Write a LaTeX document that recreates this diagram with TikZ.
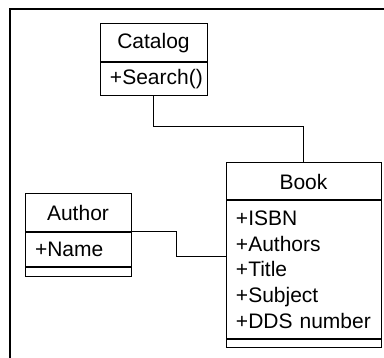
\documentclass[tikz,border=0pt]{standalone}
\usepackage{fontspec}
\setmainfont{Liberation Sans}
\usetikzlibrary{positioning}
\begin{document}
\begin{tikzpicture}[x=1pt,y=-1pt,
  part/.style={draw,line width=1pt,outer sep=0pt,inner sep=0pt},
  titlepart/.style={part,minimum height=38pt,font=\fontsize{21}{25.7}\selectfont},
  attrpart/.style={part,inner xsep=10pt,align=left,font=\fontsize{21}{25.7}\selectfont},
  link/.style={line width=1pt}]
\useasboundingbox (0,0) rectangle (384,358);
\draw [line width=2pt] (9.5,358) |- (384,9.5);
% classes
\node[titlepart,minimum width=107pt] (catalog) at (153.5,43) {Catalog};
\node[attrpart,text width=87pt,minimum height=34pt,below=0pt of catalog] (catalogattr) {+Search()};
\node[titlepart,minimum width=155pt,minimum height=37pt] (book) at (303.5,181.5) {Book};
\node[attrpart,text width=135pt,minimum height=139pt,below=0pt of book] (bookattr) {+ISBN\\+Authors\\+Title\\+Subject\\+DDS number};
\node[part,minimum width=155pt,minimum height=9pt,below=0pt of bookattr] (bookops) {};
\node[titlepart,minimum width=106pt] (author) at (78,213) {Author};
\node[attrpart,text width=86pt,minimum height=35pt,below=0pt of author] (authorattr) {+Name};
\node[part,minimum width=106pt,minimum height=10pt,below=0pt of authorattr] (authorops) {};
% links
\draw[link] (catalogattr.south) -- ++(0,31) -| (book.north);
\coordinate (bend) at (176.5,257);
\draw[link] (author.south east) -| (bend) -- (bend -| bookattr.west);
\draw[line width=2pt] (book.south west) -- (book.south east);
\draw[line width=2pt] (catalog.south west) -- (catalog.south east);
\draw[line width=2pt] (author.south west) -- (author.south east);
\draw[line width=2pt] (bookattr.south west) -- (bookattr.south east);
\draw[line width=2pt] (authorattr.south west) -- (authorattr.south east);
\end{tikzpicture}
\end{document}
